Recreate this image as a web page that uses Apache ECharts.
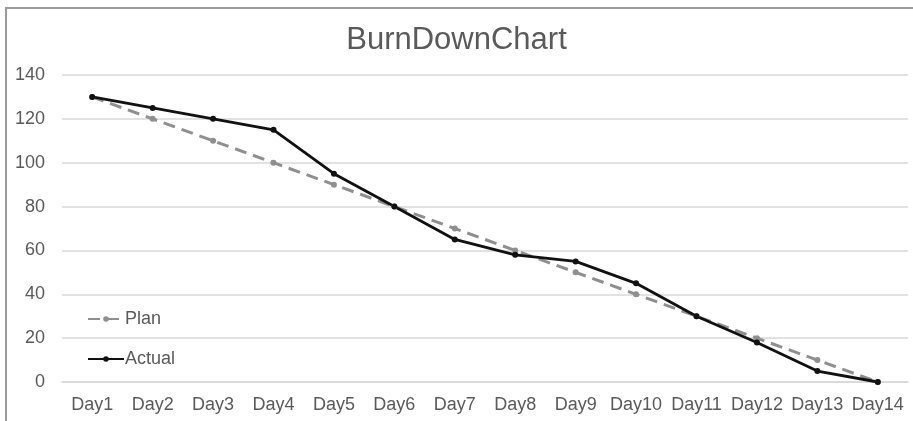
<!DOCTYPE html>
<html><head><meta charset="utf-8">
<script src="https://cdn.jsdelivr.net/npm/echarts@6/dist/echarts.min.js"></script>
<style>
html,body{margin:0;padding:0;background:#fff;}
#frame{position:absolute;left:5px;top:7px;width:920px;height:430px;border-left:2px solid #9a9a9a;border-top:2px solid #9a9a9a;}
#c{position:absolute;left:0;top:0;width:913px;height:421px;}
</style></head>
<body>
<div id="frame"></div>
<div id="c"></div>
<script>
const categories = ['Day1','Day2','Day3','Day4','Day5','Day6','Day7','Day8','Day9','Day10','Day11','Day12','Day13','Day14'];
const planValues = [130,120,110,100,90,80,70,60,50,40,30,20,10,0];
const actualValues = [130,125,120,115,95,80,65,58,55,45,30,18,5,0];
const yTicks = [0,20,40,60,80,100,120,140];

const chart = echarts.init(document.getElementById('c'));
chart.setOption({
  animation:false,
  title:{text:'BurnDownChart',left:'center',top:20,textStyle:{fontFamily:'Liberation Sans',fontSize:31,fontWeight:'normal',color:'#5a5a5a'}},
  legend:{orient:'vertical',left:82,top:305,itemWidth:36,itemHeight:7,itemGap:22,
    textStyle:{fontFamily:'Liberation Sans',fontSize:18,color:'#5a5a5a',padding:[0,0,0,-4]},
    data:['Plan','Actual']},
  grid:{left:62,right:5,top:75,bottom:39},
  xAxis:{type:'category',data:categories,boundaryGap:true,
    axisLine:{show:true,lineStyle:{color:'#d9d9d9',width:1.5}},axisTick:{show:false},
    axisLabel:{fontFamily:'Liberation Sans',fontSize:18,color:'#5a5a5a',margin:14,interval:0}},
  yAxis:{type:'value',min:yTicks[0],max:yTicks[yTicks.length-1],interval:20,
    axisLine:{show:false},axisTick:{show:false},
    splitLine:{lineStyle:{color:'#d9d9d9',width:1.5}},
    axisLabel:{fontFamily:'Liberation Sans',fontSize:18,color:'#5a5a5a',margin:17}},
  series:[
    {name:'Plan',type:'line',data:planValues,symbol:'circle',symbolSize:6,
      lineStyle:{color:'#8f8f8f',width:3,type:[12,7]},itemStyle:{color:'#8f8f8f'}},
    {name:'Actual',type:'line',data:actualValues,symbol:'circle',symbolSize:6,
      lineStyle:{color:'#111',width:2.8},itemStyle:{color:'#111'}}
  ]
});
</script>
</body></html>
